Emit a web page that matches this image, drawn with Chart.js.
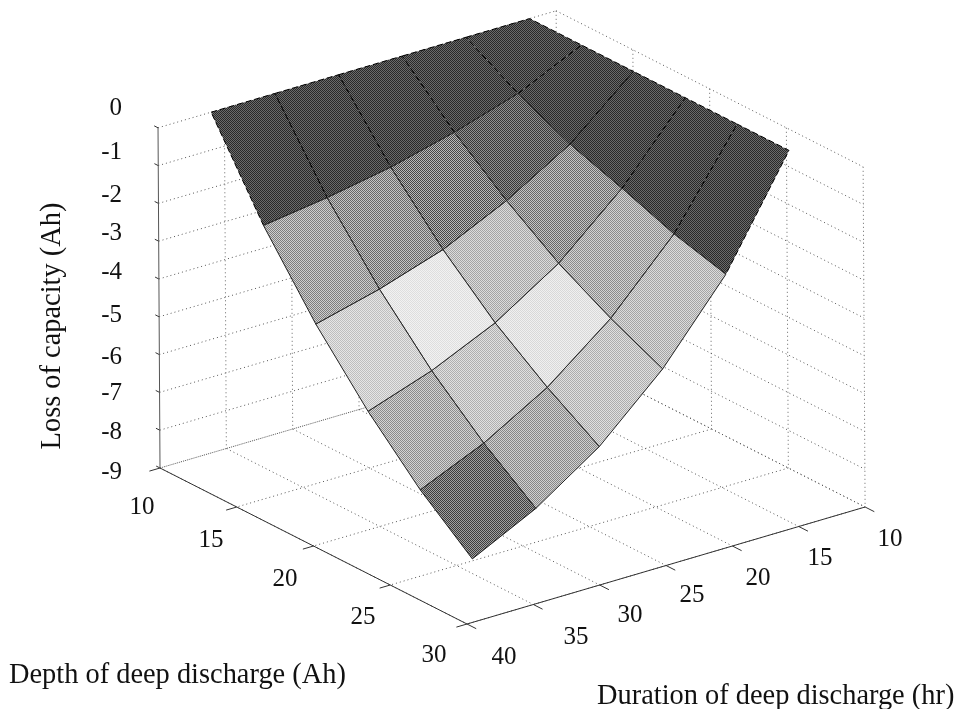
<!DOCTYPE html>
<html lang="en">
<head>
  <meta charset="UTF-8" />
  <title>Loss of capacity surface</title>
  <script src="https://cdn.jsdelivr.net/npm/chart.js"></script>
  <style>
    html, body { margin: 0; padding: 0; background: #fff; }
    canvas { display: block; }
  </style>
</head>
<body>
  <canvas id="surface" width="955" height="709"></canvas>

  <script>
    // surface grid
    const depthGrid = [10, 13.38, 16.76, 20.14, 23.52, 26.9];
    const durationGrid = [36, 31.2, 26.4, 21.6, 16.8, 12];

    // loss of capacity per depth, one value per duration in durationGrid
    const lossDepth10 = [0, 0, 0, 0, 0, 0];
    const lossDepth13 = [-2.30, -2.06, -1.75, -1.32, -0.79, 0];
    const lossDepth17 = [-4.21, -3.78, -3.23, -2.43, -1.43, 0];
    const lossDepth20 = [-5.82, -5.24, -4.47, -3.39, -1.90, 0];
    const lossDepth23 = [-7.20, -6.46, -5.48, -4.15, -2.41, 0];
    const lossDepth27 = [-8.33, -7.49, -6.35, -4.79, -2.78, 0];
    const lossRows = [lossDepth10, lossDepth13, lossDepth17, lossDepth20, lossDepth23, lossDepth27];

    // axis ticks
    const depthTicks = [10, 15, 20, 25, 30];
    const durationTicks = [10, 15, 20, 25, 30, 35, 40];
    const lossTicks = [0, -1, -2, -3, -4, -5, -6, -7, -8, -9];

    // grey level of each facet, rows by depth
    const facetGrey = [
      [74, 74, 74, 74, 74],
      [165, 150, 128, 100, 74],
      [210, 232, 192, 150, 74],
      [176, 200, 228, 176, 74],
      [110, 172, 198, 192, 74]
    ];

    // view: orthographic, from corner depth 10 / duration 40 / loss -9
    function project(depth, duration, loss) {
      return {
        x: 160 + (depth - 10) * 15.35 + (40 - duration) * 13.27 - (loss + 9) * 0.22,
        y: 468 + (depth - 10) * 7.8 - (40 - duration) * 3.9 - (loss + 9) * 37.8
      };
    }

    // printed halftone look: 1px checker around the grey level
    function halftone(grey) {
      const spread = Math.min(grey, 255 - grey) * 0.45;
      const c = document.createElement('canvas');
      c.width = c.height = 2;
      const g = c.getContext('2d');
      const hi = Math.round(grey + spread), lo = Math.round(grey - spread);
      g.fillStyle = `rgb(${hi},${hi},${hi})`;
      g.fillRect(0, 0, 2, 2);
      g.fillStyle = `rgb(${lo},${lo},${lo})`;
      g.fillRect(0, 0, 1, 1);
      g.fillRect(1, 1, 1, 1);
      return g.createPattern(c, 'repeat');
    }

    function segment(a, b, color, dash, width) {
      return {
        data: [project(...a), project(...b)],
        showLine: true,
        pointRadius: 0,
        borderColor: color,
        borderWidth: width || 1,
        borderDash: dash || [],
        fill: false,
        clip: false
      };
    }

    const dotted = [1, 3];
    const frame = [];
    lossTicks.forEach(z => {
      frame.push(segment([10, 40, z], [10, 10, z], '#555', dotted));
      frame.push(segment([10, 10, z], [30, 10, z], '#555', dotted));
    });
    durationTicks.forEach(t => {
      frame.push(segment([10, t, -9], [30, t, -9], '#555', dotted));
      if (t !== 40) frame.push(segment([10, t, 0], [10, t, -9], '#666', dotted));
    });
    depthTicks.forEach(d => {
      frame.push(segment([d, 10, -9], [d, 40, -9], '#555', dotted));
      if (d !== 10) frame.push(segment([d, 10, 0], [d, 10, -9], '#666', dotted));
    });

    const axes = [
      segment([10, 40, 0], [10, 40, -9], '#555'),
      segment([10, 40, -9], [30, 40, -9], '#333'),
      segment([30, 40, -9], [30, 10, -9], '#333')
    ];
    lossTicks.forEach(z => axes.push(segment([10, 40, z], [9.75, 40, z], '#333')));
    depthTicks.forEach(d => axes.push(segment([d, 40, -9], [d, 40.8, -9], '#333')));
    durationTicks.forEach(t => axes.push(segment([30, t, -9], [30.6, t, -9], '#333')));

    // facets: light ones listed first so their solid edges sit on top of dark ones
    const lightFacets = [], darkFacets = [];
    facetGrey.forEach((row, i) => {
      row.forEach((grey, j) => {
        const corners = [[i, j], [i, j + 1], [i + 1, j + 1], [i + 1, j], [i, j]];
        const dark = grey < 80;
        const facet = {
          data: corners.map(([r, c]) => project(depthGrid[r], durationGrid[c], lossRows[r][c])),
          showLine: true,
          pointRadius: 0,
          borderColor: dark ? '#000' : '#222',
          borderWidth: 1,
          borderDash: dark ? [6, 3] : [],
          backgroundColor: halftone(grey),
          fill: 'shape',
          tension: 0,
          clip: false
        };
        (dark ? darkFacets : lightFacets).push(facet);
      });
    });

    // tick label spots, set by eye because the figure's labels drift from the ticks
    const lossLabelY = [108, 152, 195, 233, 272, 315, 357, 393, 432, 472];
    const depthLabelAt = [[142, 507], [211, 540], [285, 579], [363, 617], [434, 655]];
    const durationLabelAt = [[890, 539], [820, 558], [758, 578], [692, 595], [630, 615], [576, 637], [504, 657]];

    const textPlugin = {
      id: 'surfaceText',
      afterDraw(chart) {
        const ctx = chart.ctx;
        ctx.save();
        ctx.fillStyle = '#111';
        ctx.font = '25px "Liberation Serif"';
        ctx.textBaseline = 'middle';
        ctx.textAlign = 'right';
        lossTicks.forEach((z, i) => ctx.fillText(String(z), 122, lossLabelY[i]));
        ctx.textAlign = 'center';
        depthTicks.forEach((d, i) => ctx.fillText(String(d), depthLabelAt[i][0], depthLabelAt[i][1]));
        durationTicks.forEach((t, i) => ctx.fillText(String(t), durationLabelAt[i][0], durationLabelAt[i][1]));

        ctx.font = '28.4px "Liberation Serif"';
        ctx.textBaseline = 'alphabetic';
        ctx.textAlign = 'left';
        ctx.fillText('Depth of deep discharge (Ah)', 9, 683);
        ctx.fillText('Duration of deep discharge (hr)', 597, 704);
        ctx.translate(60, 326);
        ctx.rotate(-Math.PI / 2);
        ctx.textAlign = 'center';
        ctx.fillText('Loss of capacity (Ah)', 0, 0);
        ctx.restore();
      }
    };

    new Chart(document.getElementById('surface').getContext('2d'), {
      type: 'scatter',
      data: { datasets: [...lightFacets, ...darkFacets, ...axes, ...frame] },
      options: {
        responsive: false,
        animation: false,
        layout: { padding: 0 },
        scales: {
          x: { type: 'linear', min: 0, max: 955, display: false },
          y: { type: 'linear', min: 0, max: 709, reverse: true, display: false }
        },
        plugins: {
          legend: { display: false },
          tooltip: { enabled: false }
        }
      },
      plugins: [textPlugin]
    });
  </script>
</body>
</html>
